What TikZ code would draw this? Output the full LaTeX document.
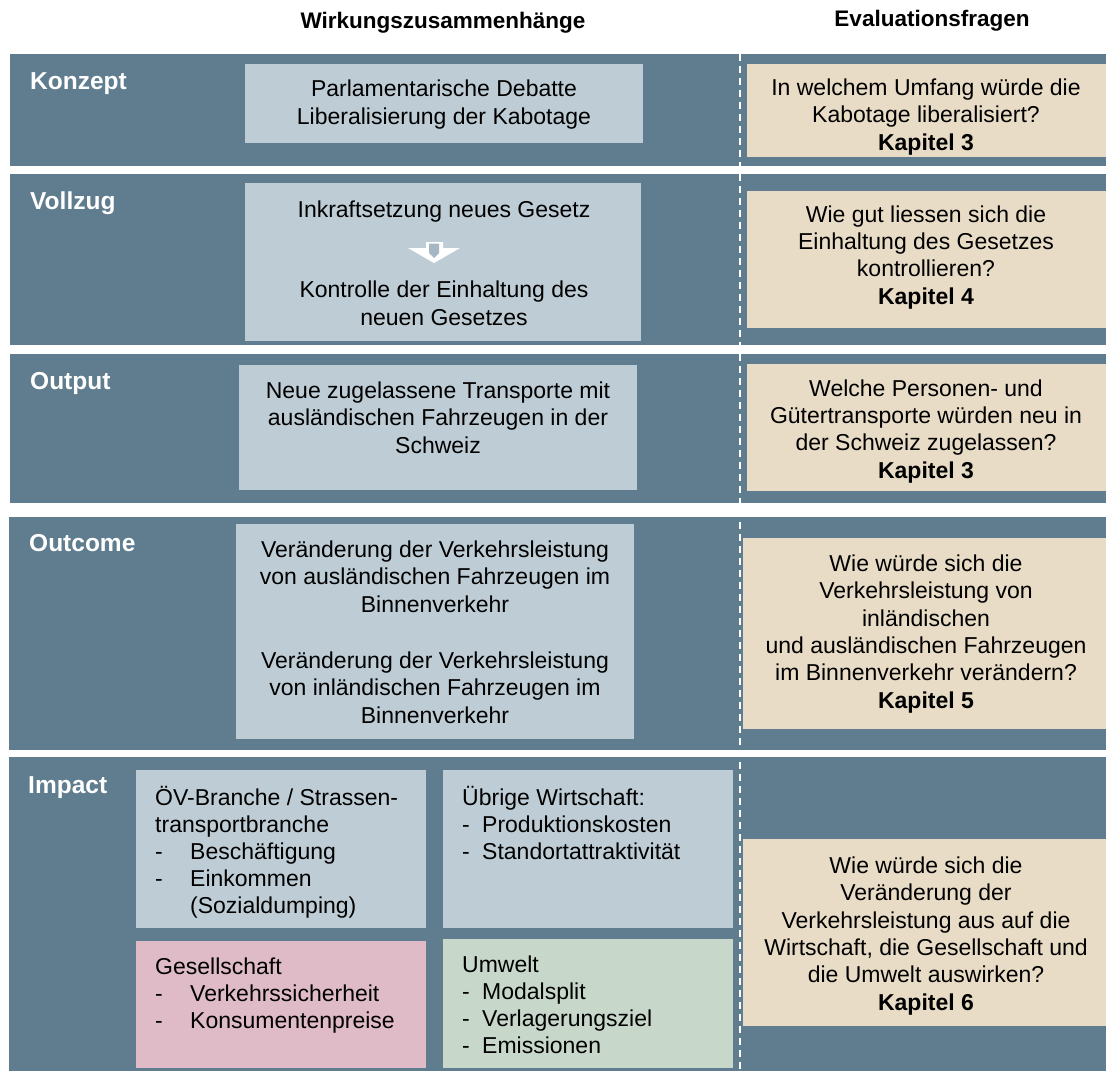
\documentclass[tikz,border=0pt]{standalone}
\usepackage{fontspec}
\setmainfont{Liberation Sans}
\definecolor{bandc}{HTML}{5F7D8F}
\definecolor{lightc}{HTML}{BECDD5}
\definecolor{tanc}{HTML}{E8DCC6}
\definecolor{pinkc}{HTML}{DEBBC6}
\definecolor{greenc}{HTML}{C7D8CA}
\definecolor{arrowgray}{HTML}{A5B6C4}
\newcommand\lstdashA{\makebox[35pt][l]{-}}
\newcommand\lstdashB{\makebox[20pt][l]{-}}
\begin{document}
\begin{tikzpicture}[x=1pt,y=-1pt,
  bandbox/.style={fill=bandc},
  lightbox/.style={fill=lightc},
  tanbox/.style={fill=tanc},
  txt/.style={font=\fontsize{23}{27.3}\selectfont, align=center, inner sep=0pt, anchor=base, text=black},
  ltxt/.style={font=\fontsize{23}{26.8}\selectfont, align=left, inner sep=0pt, anchor=base west, text=black},
  rowlabel/.style={font=\fontsize{24.5}{28}\selectfont\bfseries, text=white, inner sep=0pt, anchor=base west},
  hdr/.style={font=\fontsize{22.5}{26}\selectfont\bfseries, text=black, inner sep=0pt, anchor=base}]
\useasboundingbox (0,0) rectangle (1106,1073);
\fill[white] (0,0) rectangle (1106,1073);

% bands
\fill[bandbox] (10,54) rectangle (1106,166);
\fill[bandbox] (10,174) rectangle (1106,345);
\fill[bandbox] (10,354) rectangle (1106,503);
\fill[bandbox] (9,517) rectangle (1106,750);
\fill[bandbox] (9,757) rectangle (1106,1071);

% dashed divider
\coordinate (dtop) at (740,54);
\coordinate (dbot) at (740,1071);
\draw[white, line width=2pt, dash pattern=on 7pt off 5pt] (dtop) -- (dbot);

% light boxes
\fill[lightbox] (245,64) rectangle (643,143);
\fill[lightbox] (245,183) rectangle (641,341);
\fill[lightbox] (239,365) rectangle (637,490);
\fill[lightbox] (236,524) rectangle (634,739);
\fill[lightbox] (136,770) rectangle (426,928);
\fill[lightbox] (443,770) rectangle (733,928);
\fill[pinkc] (136,941) rectangle (426,1068);
\fill[greenc] (443,939) rectangle (733,1068);

% tan boxes
\fill[tanbox] (747,64) rectangle (1106,157);
\fill[tanbox] (747,191) rectangle (1106,328);
\fill[tanbox] (747,364) rectangle (1106,491);
\fill[tanbox] (743,538) rectangle (1106,729);
\fill[tanbox] (743,839) rectangle (1106,1026);

% headers
\node[hdr] (h1) at (443,29) {Wirkungszusammenhänge};
\node[hdr] (h2) at (932,27) {Evaluationsfragen};

% row labels
\node[rowlabel] (lk) at (30,89) {Konzept};
\node[rowlabel] (lv) at (30,209) {Vollzug};
\node[rowlabel] (lo) at (30,389) {Output};
\node[rowlabel] (loc) at (29,551) {Outcome};
\node[rowlabel] (li) at (28,793) {Impact};

% left column texts (anchored at last baseline)
\node[txt] (k1) at (444,124) {Parlamentarische Debatte\\Liberalisierung der Kabotage};
\node[txt] (v1) at (444,217) {Inkraftsetzung neues Gesetz};
\node[txt] (v2) at (444,325) {Kontrolle der Einhaltung des\\neuen Gesetzes};
\node[txt] (o1) at (438,453) {Neue zugelassene Transporte mit\\ausländischen Fahrzeugen in der\\Schweiz};
\node[txt] (oc1) at (435,612) {Veränderung der Verkehrsleistung\\von ausländischen Fahrzeugen im\\Binnenverkehr};
\node[txt] (oc2) at (435,723) {Veränderung der Verkehrsleistung\\von inländischen Fahrzeugen im\\Binnenverkehr};

% arrow in Vollzug
\fill[white] (426,242) -- (443,242) -- (443,248) -- (460,248) -- (434,263) -- (408,248) -- (426,248) -- cycle;
\fill[arrowgray] (429,243.5) -- (439,243.5) -- (439,253) -- (434,258) -- (429,253) -- cycle;

% impact texts
\node[ltxt] (i1) at (155,913) {ÖV-Branche / Strassen-\\transportbranche\\\lstdashA Beschäftigung\\\lstdashA Einkommen\\\hspace*{35pt}(Sozialdumping)};
\node[ltxt] (i2) at (462,859) {Übrige Wirtschaft:\\\lstdashB Produktionskosten\\\lstdashB Standortattraktivität};
\node[ltxt] (i3) at (155,1028) {Gesellschaft\\\lstdashA Verkehrssicherheit\\\lstdashA Konsumentenpreise};
\node[ltxt] (i4) at (462,1053) {Umwelt\\\lstdashB Modalsplit\\\lstdashB Verlagerungsziel\\\lstdashB Emissionen};

% evaluation questions
\node[txt] (t1) at (926,150) {In welchem Umfang würde die\\Kabotage liberalisiert?\\\textbf{Kapitel 3}};
\node[txt] (t2) at (926,304) {Wie gut liessen sich die\\Einhaltung des Gesetzes\\kontrollieren?\\\textbf{Kapitel 4}};
\node[txt] (t3) at (926,478) {Welche Personen- und\\Gütertransporte würden neu in\\der Schweiz zugelassen?\\\textbf{Kapitel 3}};
\node[txt] (t4) at (926,708) {Wie würde sich die\\Verkehrsleistung von\\inländischen\\und ausländischen Fahrzeugen\\im Binnenverkehr verändern?\\\textbf{Kapitel 5}};
\node[txt] (t5) at (926,1010) {Wie würde sich die\\Veränderung der\\Verkehrsleistung aus auf die\\Wirtschaft, die Gesellschaft und\\die Umwelt auswirken?\\\textbf{Kapitel 6}};
\end{tikzpicture}
\end{document}
